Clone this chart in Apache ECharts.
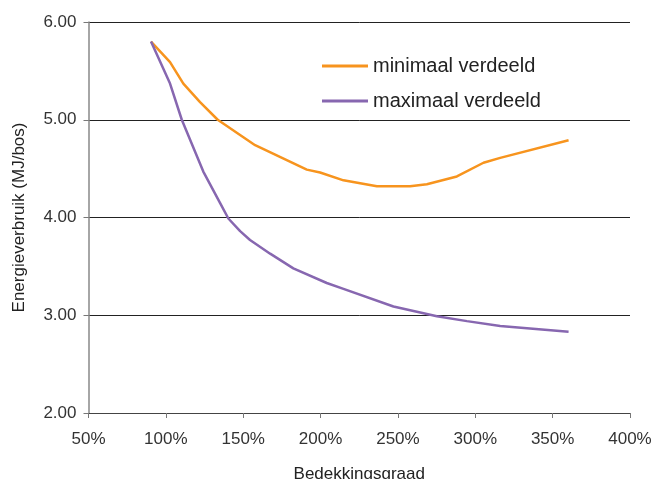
<!DOCTYPE html>
<html>
<head>
<meta charset="utf-8">
<script src="https://cdn.jsdelivr.net/npm/echarts@6/dist/echarts.min.js"></script>
<style>
html,body{margin:0;padding:0;background:#fff;}
#chart{width:652px;height:479px;}
</style>
</head>
<body>
<div id="chart"></div>
<script>
var seriesNames = ['minimaal verdeeld', 'maximaal verdeeld'];
var minX = [90.4, 102.7, 111.3, 122.1, 133.5, 157.7, 191.1, 199.7, 214.8, 236.4, 257.9, 268.7, 288.1, 305.3, 316.1, 360.3];
var minY = [5.80, 5.59, 5.37, 5.18, 5.00, 4.74, 4.49, 4.46, 4.38, 4.32, 4.32, 4.34, 4.42, 4.56, 4.61, 4.79];
var maxX = [90.4, 102.7, 110.3, 124.2, 135.0, 140.4, 148.0, 154.4, 167.4, 182.4, 204.0, 214.8, 247.1, 275.2, 294.6, 316.1, 360.3];
var maxY = [5.80, 5.37, 5.00, 4.47, 4.15, 3.99, 3.86, 3.77, 3.63, 3.48, 3.33, 3.27, 3.09, 2.99, 2.94, 2.89, 2.83];
var xTicks = [50, 400, 50];   // min, max, interval (%)
var yTicks = [2, 6, 1];       // min, max, interval

function pairs(xs, ys){ return xs.map(function(x,i){ return [x, ys[i]]; }); }

var font = 'Liberation Sans, Arial, sans-serif';
var chart = echarts.init(document.getElementById('chart'), null, {renderer:'canvas'});
chart.setOption({
  animation: false,
  backgroundColor: '#fff',
  grid: {left: 88.5, right: 22, top: 22, bottom: 66, containLabel: false, outerBoundsMode: 'none'},
  legend: {
    orient: 'vertical', left: 322, top: 56, itemGap: 15, padding: 0,
    itemWidth: 46, itemHeight: 3, icon: 'rect',
    textStyle: {fontFamily: font, fontSize: 20, color: '#222', lineHeight: 20},
    data: seriesNames
  },
  xAxis: {
    type: 'value', min: xTicks[0], max: xTicks[1], interval: xTicks[2],
    name: 'Bedekkingsgraad', nameLocation: 'middle', nameGap: 53,
    nameTextStyle: {fontFamily: font, fontSize: 17, color: '#222'},
    axisLine: {show: true, lineStyle: {color: '#444', width: 1}},
    axisTick: {show: true, inside: false, length: 5, lineStyle: {color: '#777'}},
    axisLabel: {fontFamily: font, fontSize: 17, color: '#333', margin: 18, formatter: '{value}%'},
    splitLine: {show: false}
  },
  yAxis: {
    type: 'value', min: yTicks[0], max: yTicks[1], interval: yTicks[2],
    name: 'Energieverbruik (MJ/bos)', nameLocation: 'middle', nameGap: 61,
    nameTextStyle: {fontFamily: font, fontSize: 17, color: '#222'},
    axisLine: {show: true, lineStyle: {color: '#888', width: 1.5}},
    axisTick: {show: true, inside: false, length: 5, lineStyle: {color: '#777'}},
    axisLabel: {fontFamily: font, fontSize: 17, color: '#333', margin: 12,
      formatter: function(v){ return v.toFixed(2); }},
    splitLine: {show: true, lineStyle: {color: '#222', width: 1}}
  },
  series: [
    {name: seriesNames[0], type: 'line', data: pairs(minX, minY), showSymbol: false, symbol: 'none',
     lineStyle: {color: '#f7941e', width: 2.5}, itemStyle: {color: '#f7941e'}},
    {name: seriesNames[1], type: 'line', data: pairs(maxX, maxY), showSymbol: false, symbol: 'none',
     lineStyle: {color: '#8767b0', width: 2.5}, itemStyle: {color: '#8767b0'}}
  ]
});
</script>
</body>
</html>
